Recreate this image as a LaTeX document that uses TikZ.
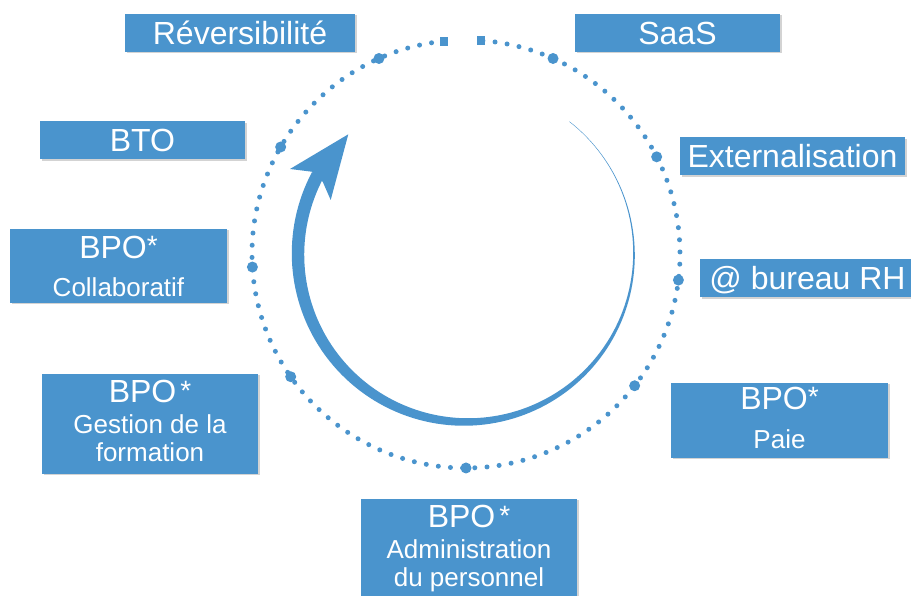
\documentclass[tikz,border=0pt]{standalone}
\usepackage{fontspec}
\setmainfont{Liberation Sans}
\usetikzlibrary{shadows}
\definecolor{bleu}{RGB}{74,148,205}
\newcommand{\grand}{\fontsize{32}{36}\selectfont}
\newcommand{\moyen}{\fontsize{26}{28}\selectfont}
\newcommand{\etoile}{\raisebox{2.5pt}{\fontsize{28}{28}\selectfont *}}

\begin{document}
\begin{tikzpicture}[x=1pt,y=1pt,
  etiq/.style={fill=bleu, text=white, inner sep=0pt, align=center,
    drop shadow={shadow xshift=1.5pt, shadow yshift=-1.5pt, opacity=0.35}},
  ligne/.style={etiq, font=\grand, text height=23pt, text depth=0pt, minimum height=38pt},
  bloc/.style={etiq, font=\moyen}]
\useasboundingbox (0,0) rectangle (911,596);
\draw [bleu, line width=5pt, line cap=round, dash pattern=on 0pt off 12.2pt]
  (466,342) ++(96:214) arc [start angle=96, end angle=446, radius=214];
\foreach \a in {114,66,27,-7,-38,-90,-145,-176.5,150}
  \fill [bleu] (466,342) ++(\a:214) circle (5.5);
\fill [bleu] (466,342) ++(96:214) +(-4,-4.5) rectangle +(4,4.5);
\fill [bleu] (466,342) ++(86:214) +(-4,-4.5) rectangle +(4,4.5);
\begin{scope}[shift={(466,342)}]
\fill [bleu] (52:168.2)
  \foreach \a [evaluate=\a as \r using {168.2+3.1*(1-cos((52-(\a))*0.6923))}] in {50,48,...,-208} { -- (\a:\r) }
  \foreach \a [evaluate=\a as \r using {167.8-3.1*(1-cos((52-(\a))*0.6923))}] in {-208,-206,...,52} { -- (\a:\r) }
  -- cycle;
\end{scope}
\fill [bleu] (348.3,461.7) -- (290,427) -- (311.7,424.3) -- (322.7,414.3) -- (330.7,396) -- cycle;
\node [ligne, minimum width=230pt] (rev) at (240,563) {Réversibilité};
\node [ligne, minimum width=205pt] (saas) at (677.5,563) {SaaS};
\node [ligne, minimum width=225pt] (ext) at (792.5,439.5) {Externalisation};
\node [ligne, minimum width=205pt] (bto) at (142.5,455.5) {BTO};
\node [ligne, minimum width=215pt] (bureau) at (807.5,317.5) {@ bureau RH};
\node [bloc, minimum width=217pt, minimum height=74pt] (collab) at (118.5,330)
  {{\grand BPO}\etoile\\[10pt]Collaboratif};
\node [bloc, minimum width=216pt, minimum height=100pt] (forma) at (150,172)
  {{\grand BPO}\hspace{4pt}\etoile\\[3pt]Gestion de la\\formation\vphantom{g}};
\node [bloc, minimum width=217pt, minimum height=75pt] (paie) at (779.5,175.5)
  {{\grand BPO}\etoile\\[11pt]Paie\vphantom{g}};
\node [bloc, minimum width=216pt, minimum height=100pt] (admin) at (469,47)
  {{\grand BPO}\hspace{4pt}\etoile\\[3pt]Administration\\du personnel};
\end{tikzpicture}
\end{document}
